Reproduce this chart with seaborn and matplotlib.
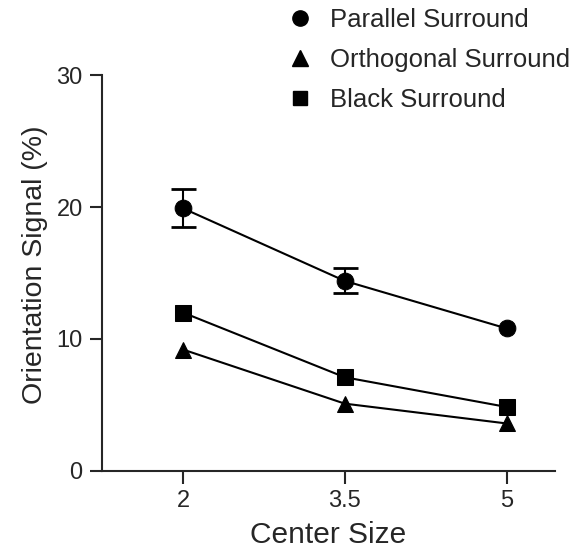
import matplotlib
matplotlib.use("Agg")
import matplotlib.pyplot as plt
from matplotlib.lines import Line2D
import seaborn as sns
import pandas as pd

center_size = [2, 3.5, 5]
parallel = [19.9, 14.4, 10.8]
parallel_err = [1.45, 0.95, 0.0]
orthogonal = [9.2, 5.1, 3.6]
black = [12.0, 7.1, 4.85]
labels = ["Parallel Surround", "Orthogonal Surround", "Black Surround"]
markers = ["o", "^", "s"]

sns.set_style("ticks")
plt.rcParams['font.family'] = ['Liberation Sans', 'DejaVu Sans']

fig = plt.figure(figsize=(5.77, 5.60), dpi=100)
ax = fig.add_axes([0.177, 0.159, 0.785, 0.707])

for vals, lab, mk in zip([parallel, orthogonal, black], labels, markers):
    df = pd.DataFrame({"x": center_size, "y": vals})
    sns.lineplot(data=df, x="x", y="y", ax=ax, color="black", lw=1.5,
                 marker=mk, markersize=12 if mk != "s" else 11,
                 markeredgecolor="black", markerfacecolor="black")

ax.errorbar(center_size[:2], parallel[:2], yerr=parallel_err[:2], fmt="none",
            ecolor="black", elinewidth=1.5, capsize=9, capthick=2)

ax.set_xlim(1.25, 5.45)
ax.set_ylim(0, 30)
ax.set_xticks(center_size)
ax.set_xticklabels(["2", "3.5", "5"])
ax.set_yticks([0, 10, 20, 30])
ax.tick_params(direction="out", length=9, width=1.5, labelsize=17, pad=5)
sns.despine(ax=ax)
for s in ["left", "bottom"]:
    ax.spines[s].set_linewidth(1.5)
ax.set_xlabel("Center Size", fontsize=21.5, labelpad=6)
ax.set_ylabel("Orientation Signal (%)", fontsize=20.5)
ax.yaxis.set_label_coords(-0.12, 0.52)

handles = [Line2D([], [], color="black", marker=m, linestyle="none",
                  markersize=11 if m != "s" else 10) for m in markers]
fig.legend(handles, labels, loc="upper left", bbox_to_anchor=(0.499, 0.985),
           frameon=False, fontsize=18.5, handletextpad=0.68, labelspacing=0.62,
           handlelength=0.95, borderpad=0, borderaxespad=0)

fig.savefig("out.png", dpi=100)
